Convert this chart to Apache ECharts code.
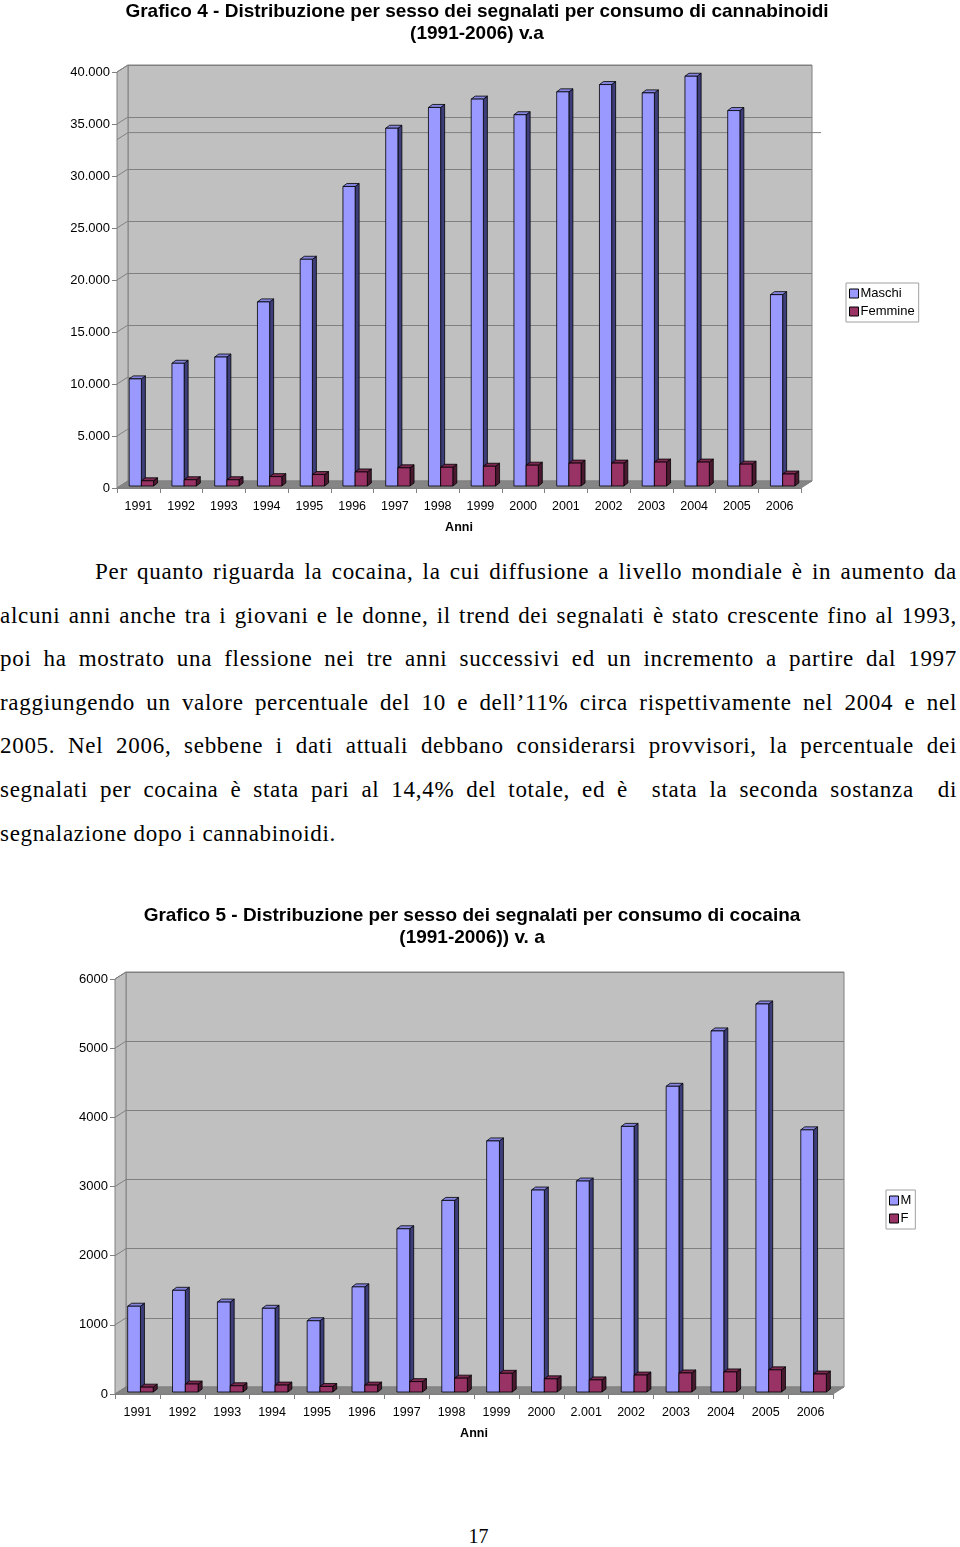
<!DOCTYPE html>
<html>
<head>
<meta charset="utf-8">
<script src="https://cdn.jsdelivr.net/npm/echarts@6/dist/echarts.min.js"></script>
<style>
    body { margin: 0; background: #fff; }
    #page { position: relative; width: 960px; height: 1547px; overflow: hidden; }
    #chart1 { position: absolute; left: 0; top: 0; width: 960px; height: 545px; }
    #chart2 { position: absolute; left: 0; top: 890px; width: 960px; height: 560px; }
    #testo { position: absolute; left: 0; top: 550px; width: 957px;
             font-family: "Liberation Serif", "Times New Roman", serif; font-size: 23px; letter-spacing: 0.7px; color: #000; }
    #testo div { height: 43.6px; line-height: 43.6px; white-space: pre; }
    #pagina { position: absolute; left: 0; width: 957px; top: 1525px; text-align: center;
              font-family: "Liberation Serif", "Times New Roman", serif; font-size: 20px; }
</style>
</head>
<body>
<div id="page">
    <div id="chart1"></div>
    <div id="testo">
        <div class="riga" style="padding-left:95px">Per quanto riguarda la cocaina, la cui diffusione a livello mondiale è in aumento da</div>
        <div class="riga">alcuni anni anche tra i giovani e le donne, il trend dei segnalati è stato crescente fino al 1993,</div>
        <div class="riga">poi ha mostrato una flessione nei tre anni successivi ed un incremento a partire dal 1997</div>
        <div class="riga">raggiungendo un valore percentuale del 10 e dell’11% circa rispettivamente nel 2004 e nel</div>
        <div class="riga">2005. Nel 2006, sebbene i dati attuali debbano considerarsi provvisori, la percentuale dei</div>
        <div class="riga">segnalati per cocaina è stata pari al 14,4% del totale, ed è  stata la seconda sostanza  di</div>
        <div>segnalazione dopo i cannabinoidi.</div>
    </div>
    <div id="chart2"></div>
    <div id="pagina">17</div>
</div>
<script>
// Grafico 4 - cannabinoidi
var anniCann = ['1991','1992','1993','1994','1995','1996','1997','1998','1999','2000','2001','2002','2003','2004','2005','2006'];
var maschiCann = [10300, 11800, 12400, 17700, 21800, 28800, 34400, 36400, 37200, 35700, 37900, 38600, 37800, 39400, 36100, 18400];
var femmineCann = [500, 600, 600, 900, 1100, 1350, 1750, 1800, 1900, 2000, 2200, 2200, 2300, 2300, 2100, 1150];
var ticksCann = [0, 5000, 10000, 15000, 20000, 25000, 30000, 35000, 40000];

// Grafico 5 - cocaina
var anniCoc = ['1991','1992','1993','1994','1995','1996','1997','1998','1999','2000','2.001','2002','2003','2004','2005','2006'];
var maschiCoc = [1240, 1470, 1300, 1210, 1030, 1520, 2360, 2770, 3630, 2920, 3050, 3840, 4420, 5220, 5610, 3790];
var femmineCoc = [70, 115, 90, 100, 80, 100, 150, 200, 270, 190, 175, 245, 275, 290, 320, 260];
var ticksCoc = [0, 1000, 2000, 3000, 4000, 5000, 6000];

var FONT = 'Liberation Sans, Arial, sans-serif';
var DX = 11, DY = -7;          // profondita' del pavimento / parete
var SIDE_X = 4, SIDE_Y = -3;   // profondita' delle barre
var COL_M = {front: '#9999ff', top: '#8585e0', side: '#3d3d7a'};
var COL_F = {front: '#993366', top: '#7d2952', side: '#4a1930'};

function puntini(v) {
    return String(v).replace(/\B(?=(\d{3})+(?!\d))/g, '.');
}

// barra pseudo 3D (faccia, lato, tetto)
function barra3d(isMaschi, col) {
    return function (params, api) {
        var i = api.value(0), v = api.value(1);
        var base = api.coord([i, 0]);
        var top = api.coord([i, v]);
        var bw = api.size([1, 0])[0] * 0.285;
        var x0 = base[0] + 3 + (isMaschi ? -bw : 0);
        var x1 = x0 + bw;
        var yb = base[1] - 2, yt = top[1] - 2;
        var st = {stroke: '#000', lineWidth: 0.8};
        return {
            type: 'group',
            children: [
                {type: 'polygon', shape: {points: [[x1, yt], [x1 + SIDE_X, yt + SIDE_Y], [x1 + SIDE_X, yb + SIDE_Y], [x1, yb]]},
                    style: Object.assign({fill: col.side}, st)},
                {type: 'polygon', shape: {points: [[x0, yt], [x0 + SIDE_X, yt + SIDE_Y], [x1 + SIDE_X, yt + SIDE_Y], [x1, yt]]},
                    style: Object.assign({fill: col.top}, st)},
                {type: 'rect', shape: {x: x0, y: yt, width: bw, height: yb - yt},
                    style: Object.assign({fill: col.front}, st)}
            ]
        };
    };
}

// parete laterale, pavimento e diagonali della griglia
function cornice(ticks, extra) {
    return function (params, api) {
        var cs = params.coordSys;
        var x = cs.x, w = cs.width;
        var yb = api.coord([0, ticks[0]])[1];
        var yt = api.coord([0, ticks[ticks.length - 1]])[1];
        var ch = [
            {type: 'polygon', shape: {points: [[x, yb], [x, yt], [x + DX, yt + DY], [x + DX, yb + DY]]},
                style: {fill: '#c0c0c0', stroke: '#808080', lineWidth: 1}},
            {type: 'polygon', shape: {points: [[x, yb], [x + w, yb], [x + w + DX, yb + DY], [x + DX, yb + DY]]},
                style: {fill: '#858585', stroke: '#808080', lineWidth: 1}}
        ];
        ticks.forEach(function (t) {
            var y = api.coord([0, t])[1];
            ch.push({type: 'line', shape: {x1: x, y1: y, x2: x + DX, y2: y + DY},
                style: {stroke: '#808080', lineWidth: 1}});
        });
        if (extra) {
            var ye = api.coord([0, extra])[1];
            ch.push({type: 'polyline', shape: {points: [[x, ye], [x + DX, ye + DY], [x + w + DX + 9, ye + DY]]},
                style: {stroke: '#808080', lineWidth: 1, fill: null}});
        }
        return {type: 'group', children: ch};
    };
}

function opzioni(cfg) {
    var yMax = cfg.ticks[cfg.ticks.length - 1];
    var step = cfg.ticks[1] - cfg.ticks[0];
    var fr = cfg.front;
    return {
        animation: false,
        backgroundColor: '#fff',
        graphic: [
            {type: 'text', x: cfg.titleX, y: cfg.titleY, style: {text: cfg.title[0], font: 'bold 19px ' + FONT,
                fill: '#000', textAlign: 'center', textVerticalAlign: 'middle'}},
            {type: 'text', x: cfg.titleX, y: cfg.titleY + 22, style: {text: cfg.title[1], font: 'bold 19px ' + FONT,
                fill: '#000', textAlign: 'center', textVerticalAlign: 'middle'}}
        ],
        legend: {
            data: cfg.names,
            orient: 'vertical',
            left: cfg.legend[0], top: cfg.legend[1],
            itemWidth: 9, itemHeight: 9, itemGap: 5,
            icon: 'rect',
            padding: [4, 4, 4, 3],
            borderColor: '#a0a0a0', borderWidth: 1,
            itemStyle: {borderColor: '#000', borderWidth: 1},
            textStyle: {fontSize: 13, fontFamily: FONT, color: '#000', padding: [0, 0, 0, -3]}
        },
        grid: [
            {left: fr.left + DX, top: fr.top + DY, width: fr.width, height: fr.height, show: true,
                backgroundColor: '#c0c0c0', borderColor: '#808080', borderWidth: 1},
            {left: fr.left, top: fr.top, width: fr.width, height: fr.height}
        ],
        xAxis: [
            {type: 'category', gridIndex: 0, data: cfg.cat, show: false},
            {type: 'category', gridIndex: 1, data: cfg.cat, boundaryGap: true,
                axisLine: {lineStyle: {color: '#808080'}},
                axisTick: {show: true, interval: 0, length: 5, lineStyle: {color: '#808080'}},
                axisLabel: {interval: 0, margin: 12, fontSize: 12.5, fontFamily: FONT, color: '#000'},
                name: 'Anni', nameLocation: 'middle', nameGap: 33,
                nameTextStyle: {fontWeight: 'bold', fontSize: 12.5, fontFamily: FONT, color: '#000'}}
        ],
        yAxis: [
            {type: 'value', gridIndex: 0, min: 0, max: yMax, interval: step,
                axisLine: {show: false}, axisTick: {show: false}, axisLabel: {show: false},
                splitLine: {show: true, lineStyle: {color: '#808080', width: 1}}},
            {type: 'value', gridIndex: 1, min: 0, max: yMax, interval: step,
                axisLine: {show: true, lineStyle: {color: '#808080'}},
                axisTick: {show: true, length: 5, lineStyle: {color: '#808080'}},
                axisLabel: {margin: 7, fontSize: 13, fontFamily: FONT, color: '#000', formatter: cfg.fmt},
                splitLine: {show: false}}
        ],
        series: [
            {type: 'custom', name: 'cornice', xAxisIndex: 1, yAxisIndex: 1, z: 1, silent: true,
                renderItem: cornice(cfg.ticks, cfg.extra), data: [[0, 0]]},
            {type: 'custom', name: cfg.names[0], xAxisIndex: 1, yAxisIndex: 1, z: 3,
                itemStyle: {color: COL_M.front},
                renderItem: barra3d(true, COL_M),
                data: cfg.m.map(function (v, i) { return [i, v]; })},
            {type: 'custom', name: cfg.names[1], xAxisIndex: 1, yAxisIndex: 1, z: 4,
                itemStyle: {color: COL_F.front},
                renderItem: barra3d(false, COL_F),
                data: cfg.f.map(function (v, i) { return [i, v]; })}
        ]
    };
}

var chart1 = echarts.init(document.getElementById('chart1'));
chart1.setOption(opzioni({
    cat: anniCann, m: maschiCann, f: femmineCann, ticks: ticksCann,
    names: ['Maschi', 'Femmine'],
    front: {left: 117, top: 72, width: 684, height: 416},
    legend: [846, 283],
    title: ['Grafico 4 - Distribuzione per sesso dei segnalati per consumo di cannabinoidi', '(1991-2006) v.a'],
    titleX: 477, titleY: 12,
    fmt: puntini,
    extra: 33500
}));

var chart2 = echarts.init(document.getElementById('chart2'));
chart2.setOption(opzioni({
    cat: anniCoc, m: maschiCoc, f: femmineCoc, ticks: ticksCoc,
    names: ['M', 'F'],
    front: {left: 115, top: 89, width: 718, height: 415},
    legend: [886, 300],
    title: ['Grafico 5 - Distribuzione per sesso dei segnalati per consumo di cocaina', '(1991-2006)) v. a'],
    titleX: 472, titleY: 26,
    fmt: function (v) { return String(v); },
    extra: null
}));

// giustifica le righe del testo (a capo fissi)
var righe = document.querySelectorAll('#testo .riga');
for (var k = 0; k < righe.length; k++) {
    var r = righe[k];
    var pad = parseFloat(r.style.paddingLeft) || 0;
    var span = document.createElement('span');
    span.textContent = r.textContent;
    r.textContent = '';
    r.appendChild(span);
    var nat = span.getBoundingClientRect().width;
    var spazi = (span.textContent.match(/ /g) || []).length;
    var target = 957 - pad;
    if (spazi > 0) span.style.wordSpacing = ((target - nat) / spazi) + 'px';
}
</script>
</body>
</html>
